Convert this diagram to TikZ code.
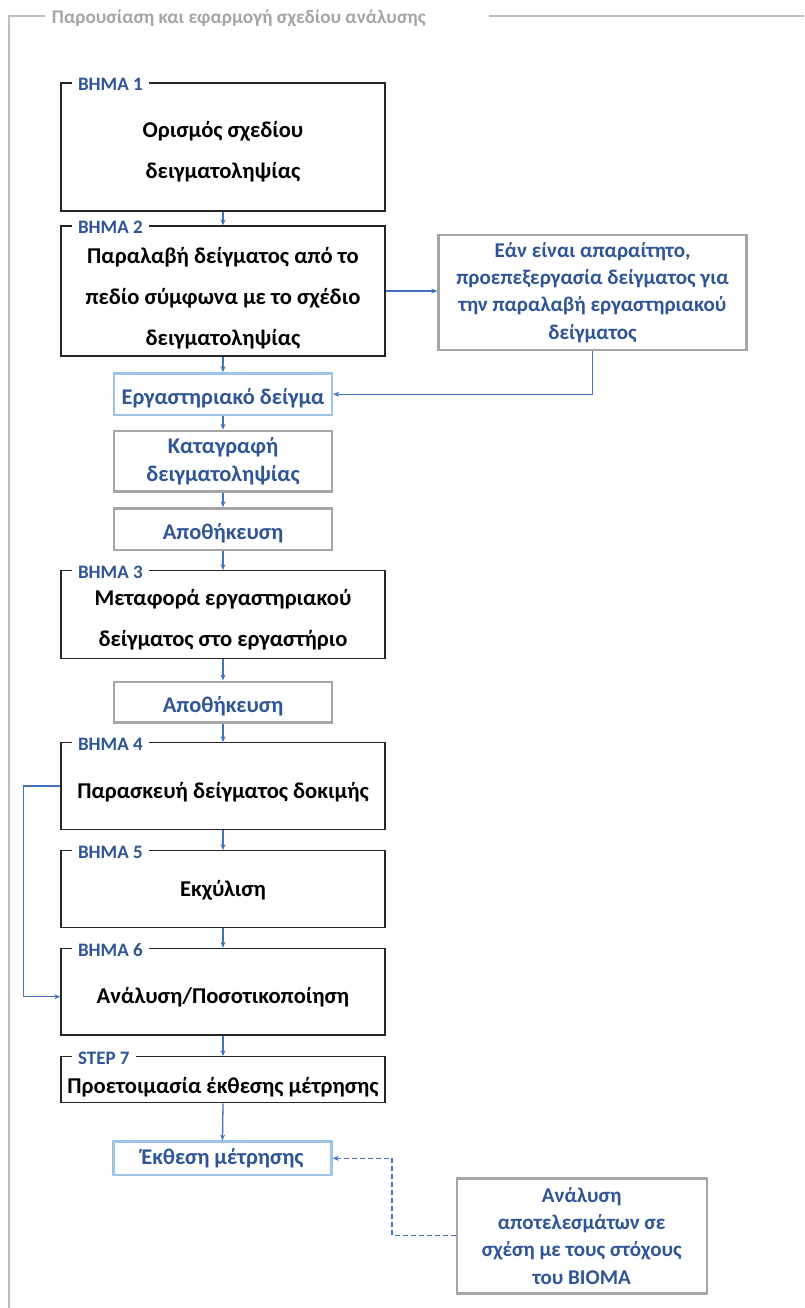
\documentclass[tikz,border=0pt]{standalone}
\usepackage{fontspec}
\setmainfont{Carlito}
\usepackage{xcolor}
\usepackage{tikz}
\usetikzlibrary{arrows.meta,positioning,calc}
\definecolor{stepblue}{RGB}{47, 85, 151}
\definecolor{arrowblue}{RGB}{68, 114, 196}
\definecolor{boxgray}{RGB}{166, 166, 166}
\definecolor{lightblue}{RGB}{157, 195, 230}
\definecolor{framegray}{RGB}{191, 191, 191}
\definecolor{titlegray}{RGB}{165, 165, 165}
\definecolor{darkcharcoal}{RGB}{38, 38, 38}

\begin{document}
\begin{tikzpicture}[
    x=1pt, y=-1pt,
    >=Stealth,
    stepbox/.style={draw=darkcharcoal, line width=1.3pt, fill=white, minimum width=324pt, inner sep=0pt},
    steptext/.style={align=center, text=black, font=\fontsize{22.6}{41}\selectfont\bfseries},
    steplabel/.style={anchor=west, fill=white, text=stepblue, font=\fontsize{19}{21}\selectfont\bfseries, inner xsep=6pt, inner ysep=1pt},
    graybox/.style={draw=boxgray, line width=2.4pt, fill=white, align=center, text=stepblue, font=\fontsize{22.4}{27.5}\selectfont\bfseries, inner sep=0pt},
    sidebox/.style={graybox, font=\fontsize{21}{27.2}\selectfont\bfseries},
    samplebox/.style={graybox, draw=lightblue},
    sunk/.style={text height=21pt, text depth=0pt},
    flow/.style={-{Stealth[length=6pt,width=5pt]}, line width=1.3pt, arrowblue},
    dashflow/.style={flow, dash pattern=on 5pt off 3pt}
]

% Page and outer frame
\fill[white] (0,0) rectangle (804,1308);
\useasboundingbox (0,0) rectangle (804,1308);
\node[anchor=west, inner sep=0pt, text=titlegray, font=\fontsize{19.2}{22}\selectfont\bfseries] (title) at (51.7,18.3) {Παρουσίαση και εφαρμογή σχεδίου ανάλυσης};
\draw[framegray, line width=1.3pt] (45,16) -- (9,16) -- (9,1308);
\draw[framegray, line width=1.3pt] (489,16) -- (804,16);

% ==================== MAIN STEPS ====================
\node[stepbox, minimum height=128pt] (s1) at (223,147) {};
\node[steptext] (s1txt) at (223,152) {Ορισμός σχεδίου\\δειγματοληψίας};
\node[steplabel] (s1lbl) at ([xshift=11.5pt, yshift=-2pt]s1.north west) {ΒΗΜΑ 1};

\node[stepbox, minimum height=130pt] (s2) at (223,291) {};
\node[steptext] (s2txt) at (223,298) {Παραλαβή δείγματος από το\\πεδίο σύμφωνα με το σχέδιο\\δειγματοληψίας};
\node[steplabel] (s2lbl) at ([xshift=11.5pt, yshift=-2pt]s2.north west) {ΒΗΜΑ 2};

\node[stepbox, minimum height=87.6pt] (s3) at (223,614.5) {};
\node[steptext] (s3txt) at (223,619.6) {Μεταφορά εργαστηριακού\\δείγματος στο εργαστήριο};
\node[steplabel] (s3lbl) at ([xshift=11.5pt, yshift=-2pt]s3.north west) {ΒΗΜΑ 3};

\node[stepbox, minimum height=86.6pt] (s4) at (223,786) {};
\node[steptext] (s4txt) at (223,792.3) {Παρασκευή δείγματος δοκιμής};
\node[steplabel] (s4lbl) at ([xshift=11.5pt, yshift=-2pt]s4.north west) {ΒΗΜΑ 4};

\node[stepbox, minimum height=76.6pt] (s5) at (223,889) {};
\node[steptext] (s5txt) at (223,890.7) {Εκχύλιση};
\node[steplabel] (s5lbl) at ([xshift=11.5pt, yshift=-2pt]s5.north west) {ΒΗΜΑ 5};

\node[stepbox, minimum height=86.7pt] (s6) at (223,991.7) {};
\node[steptext] (s6txt) at (223,996.7) {Ανάλυση/Ποσοτικοποίηση};
\node[steplabel] (s6lbl) at ([xshift=11.5pt, yshift=-2pt]s6.north west) {ΒΗΜΑ 6};

\node[stepbox, minimum height=46pt] (s7) at (223,1079.7) {};
\node[steptext] (s7txt) at (223,1086.7) {Προετοιμασία έκθεσης μέτρησης};
\node[steplabel] (s7lbl) at ([xshift=11.5pt, yshift=-2pt]s7.north west) {STEP 7};

% ==================== SAMPLE HANDLING ====================
\node[samplebox, sunk, minimum width=218pt, minimum height=41.7pt] (sample) at (223,394.2) {Εργαστηριακό δείγμα};
\node[graybox, minimum width=218pt, minimum height=60.7pt] (record) at (223,461.3) {Καταγραφή\\δειγματοληψίας};
\node[graybox, sunk, minimum width=218pt, minimum height=41.7pt] (store1) at (223,529.2) {Αποθήκευση};
\node[graybox, sunk, minimum width=218pt, minimum height=40.6pt] (store2) at (223,702) {Αποθήκευση};
\node[samplebox, minimum width=218pt, minimum height=33.3pt] (report) at (222.5,1158.3) {Έκθεση μέτρησης};

% ==================== SIDE BOXES ====================
\node[sidebox, minimum width=308pt, minimum height=115pt] (prep) at (592.5,292.5) {Εάν είναι απαραίτητο,\\προεπεξεργασία δείγματος για\\την παραλαβή εργαστηριακού\\δείγματος};
\node[sidebox, minimum width=250pt, minimum height=115pt] (goals) at (581.7,1235.8) {Ανάλυση\\αποτελεσμάτων σε\\σχέση με τους στόχους\\του BIOMA};

% ==================== FLOW ====================
\draw[flow] (s1.south) -- (s2.north);
\draw[flow] (s2.south) -- (sample.north);
\draw[flow] (sample.south) -- (record.north);
\draw[flow] (record.south) -- (store1.north);
\draw[flow] (store1.south) -- (s3.north);
\draw[flow] (s3.south) -- (store2.north);
\draw[flow] (store2.south) -- (s4.north);
\draw[flow] (s4.south) -- (s5.north);
\draw[flow] (s5.south) -- (s6.north);
\draw[flow] (s6.south) -- (s7.north);
\draw[flow] (s7.south) -- (report.north);

% Optional pre-treatment loop
\draw[flow] (s2.east) -- (s2.east -| prep.west);
\draw[flow] (prep.south) |- (sample.east);

% Skip extraction
\draw[flow] (s4.west) -- ++(-37,0) |- (s6txt -| s6.west);

% Evaluation against goals
\draw[dashflow] (goals.west) -- ++(-63.4,0) |- (report.east);

\end{tikzpicture}
\end{document}
